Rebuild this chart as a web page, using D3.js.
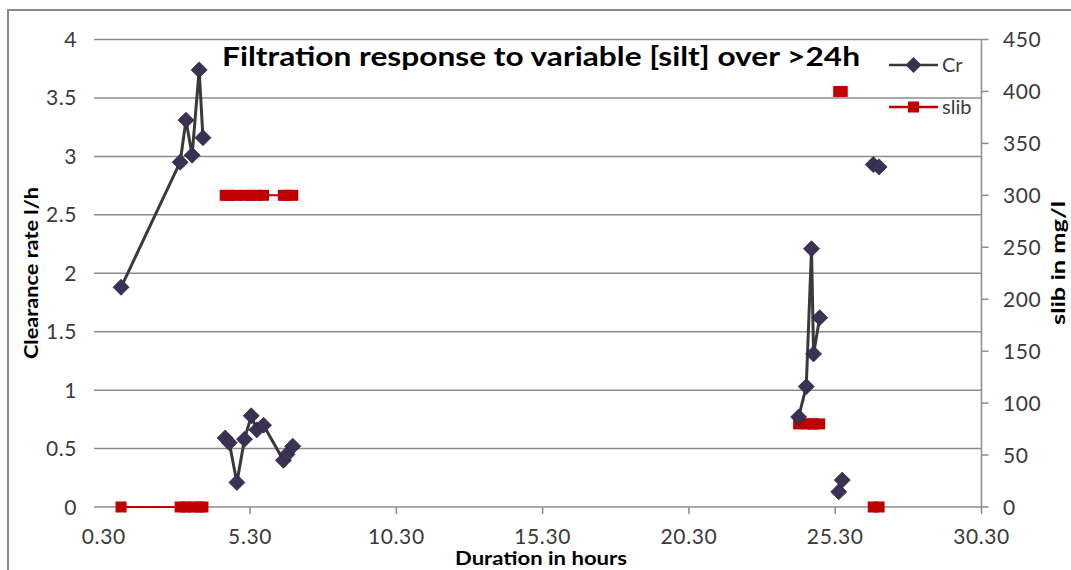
<!DOCTYPE html>
<html>
<head>
<meta charset="utf-8">
<script src="https://cdn.jsdelivr.net/npm/d3@7"></script>
<style>
  html, body { margin: 0; padding: 0; background: #fff; }
  svg { display: block; }
  text { font-family: Lato, "Open Sans", sans-serif; }
</style>
</head>
<body>
<svg width="1071" height="570"></svg>
<script>
// time of each sample (hours) and the run it belongs to (gaps between runs)
const hours = [0.89, 2.91, 3.11, 3.32, 3.56, 3.69,
  4.45, 4.59, 4.85, 5.11, 5.34, 5.53, 5.76, 6.44, 6.56, 6.76,
  24.05, 24.31, 24.49, 24.56, 24.77,
  25.42, 25.54,
  26.6, 26.8];
const run = [1, 1, 1, 1, 1, 1,
  2, 2, 2, 2, 2, 2, 2, 2, 2, 2,
  3, 3, 3, 3, 3,
  4, 4,
  5, 5];
const cr = [1.88, 2.95, 3.31, 3.01, 3.74, 3.16,
  0.59, 0.55, 0.21, 0.58, 0.78, 0.66, 0.70, 0.40, 0.45, 0.52,
  0.77, 1.03, 2.21, 1.31, 1.62,
  0.13, 0.23,
  2.93, 2.91];
const slib = [0, 0, 0, 0, 0, 0,
  300, 300, 300, 300, 300, 300, 300, 300, 300, 300,
  80, 80, 80, 80, 80,
  400, 400,
  0, 0];

const xTicks = [0.3, 5.3, 10.3, 15.3, 20.3, 25.3, 30.3];
const yTicks = [0, 0.5, 1, 1.5, 2, 2.5, 3, 3.5, 4];
const y2Ticks = [0, 50, 100, 150, 200, 250, 300, 350, 400, 450];

const plotLeft = 95, plotRight = 981.5, plotTop = 39.5, plotBottom = 507;
const grid = '#8c8c8c';
const crLine = '#3a3a3a', crFill = '#3b3152', red = '#c00000';
const tickColor = '#3a3a3a';

const svg = d3.select('svg');

const x = d3.scaleLinear().domain([0, 30.3]).range([plotLeft, plotRight]);
const y = d3.scaleLinear().domain([0, 4]).range([plotBottom, plotTop]);
const y2 = d3.scaleLinear().domain([0, 450]).range([plotBottom, plotTop]);

// outer chart border (only top and left visible)
svg.append('rect')
  .attr('x', 8).attr('y', 10)
  .attr('width', 1100).attr('height', 600)
  .attr('fill', 'none').attr('stroke', '#8a8a8a').attr('stroke-width', 2);

// gridlines
svg.append('g')
  .selectAll('line')
  .data(yTicks)
  .join('line')
  .attr('x1', plotLeft - 1).attr('x2', plotRight)
  .attr('y1', (d) => y(d)).attr('y2', (d) => y(d))
  .attr('stroke', grid).attr('stroke-width', 1.5);

// left axis labels
svg.append('g')
  .selectAll('text')
  .data(yTicks)
  .join('text')
  .attr('x', 77).attr('y', (d) => y(d))
  .attr('dy', '0.36em')
  .attr('text-anchor', 'end')
  .attr('font-size', 21).attr('fill', tickColor)
  .attr('letter-spacing', 0.6)
  .text((d) => d);

// right axis
svg.append('line')
  .attr('x1', plotRight).attr('x2', plotRight)
  .attr('y1', plotTop).attr('y2', plotBottom)
  .attr('stroke', grid).attr('stroke-width', 1.5);
svg.append('g')
  .selectAll('line')
  .data(y2Ticks)
  .join('line')
  .attr('x1', plotRight).attr('x2', plotRight + 7)
  .attr('y1', (d) => y2(d)).attr('y2', (d) => y2(d))
  .attr('stroke', grid).attr('stroke-width', 1.5);
svg.append('g')
  .selectAll('text')
  .data(y2Ticks)
  .join('text')
  .attr('x', 1003).attr('y', (d) => y2(d))
  .attr('dy', '0.36em')
  .attr('font-size', 21).attr('fill', tickColor)
  .attr('letter-spacing', 0.6)
  .text((d) => d);

// bottom axis ticks and labels
svg.append('g')
  .selectAll('line')
  .data(xTicks.slice(1))
  .join('line')
  .attr('x1', (d) => x(d)).attr('x2', (d) => x(d))
  .attr('y1', plotBottom).attr('y2', plotBottom + 7)
  .attr('stroke', grid).attr('stroke-width', 1.5);
svg.append('g')
  .selectAll('text')
  .data(xTicks)
  .join('text')
  .attr('x', (d) => x(d)).attr('y', 544)
  .attr('text-anchor', 'middle')
  .attr('font-size', 21).attr('fill', tickColor)
  .attr('letter-spacing', 0.6)
  .text((d) => d.toFixed(2));

// axis titles
svg.append('text')
  .attr('x', 541).attr('y', 565)
  .attr('text-anchor', 'middle')
  .attr('font-size', 19).attr('font-weight', 'bold')
  .attr('textLength', 172).attr('lengthAdjust', 'spacingAndGlyphs')
  .text('Duration in hours');
svg.append('text')
  .attr('transform', 'translate(38,273) rotate(-90)')
  .attr('text-anchor', 'middle')
  .attr('font-size', 19).attr('font-weight', 'bold')
  .attr('textLength', 172).attr('lengthAdjust', 'spacingAndGlyphs')
  .text('Clearance rate l/h');
svg.append('text')
  .attr('transform', 'translate(1065,263) rotate(-90)')
  .attr('text-anchor', 'middle')
  .attr('font-size', 19).attr('font-weight', 'bold')
  .attr('textLength', 124).attr('lengthAdjust', 'spacingAndGlyphs')
  .text('slib in mg/l');

// title
svg.append('text')
  .attr('x', 541).attr('y', 66)
  .attr('text-anchor', 'middle')
  .attr('font-size', 27).attr('font-weight', 'bold')
  .attr('textLength', 638).attr('lengthAdjust', 'spacingAndGlyphs')
  .text('Filtration response to variable [silt] over >24h');

const rows = hours.map((h, i) => ({ h, run: run[i], cr: cr[i], slib: slib[i] }));
const runs = d3.groups(rows, (d) => d.run);

const diamond = 'M0,-8L8,0L0,8L-8,0Z';

// slib series (red, right axis)
const slibLine = d3.line().x((d) => x(d.h)).y((d) => y2(d.slib));
svg.append('g')
  .selectAll('path')
  .data(runs)
  .join('path')
  .attr('d', ([, r]) => slibLine(r))
  .attr('fill', 'none').attr('stroke', red).attr('stroke-width', 2);
svg.append('g')
  .selectAll('rect')
  .data(rows)
  .join('rect')
  .attr('x', (d) => x(d.h) - 5.5).attr('y', (d) => y2(d.slib) - 5.5)
  .attr('width', 11).attr('height', 11)
  .attr('fill', red);

// Cr series (dark, left axis)
const crPath = d3.line().x((d) => x(d.h)).y((d) => y(d.cr));
svg.append('g')
  .selectAll('path')
  .data(runs)
  .join('path')
  .attr('d', ([, r]) => crPath(r))
  .attr('fill', 'none').attr('stroke', crLine).attr('stroke-width', 3)
  .attr('stroke-linejoin', 'round');
svg.append('g')
  .selectAll('path')
  .data(rows)
  .join('path')
  .attr('transform', (d) => `translate(${x(d.h)},${y(d.cr)})`)
  .attr('d', diamond)
  .attr('fill', crFill).attr('stroke', '#2e2640').attr('stroke-width', 0.8);

// legend
const legend = svg.append('g');
legend.append('line')
  .attr('x1', 889).attr('x2', 938).attr('y1', 65).attr('y2', 65)
  .attr('stroke', crLine).attr('stroke-width', 2.5);
legend.append('path')
  .attr('transform', 'translate(913.5,65)')
  .attr('d', diamond).attr('fill', crFill);
legend.append('text')
  .attr('x', 942).attr('y', 72)
  .attr('font-size', 20).attr('fill', tickColor)
  .text('Cr');
legend.append('line')
  .attr('x1', 889).attr('x2', 938).attr('y1', 107).attr('y2', 107)
  .attr('stroke', red).attr('stroke-width', 2.5);
legend.append('rect')
  .attr('x', 908).attr('y', 101.5).attr('width', 11).attr('height', 11)
  .attr('fill', red);
legend.append('text')
  .attr('x', 942).attr('y', 114)
  .attr('font-size', 20).attr('fill', tickColor)
  .text('slib');
</script>
</body>
</html>
